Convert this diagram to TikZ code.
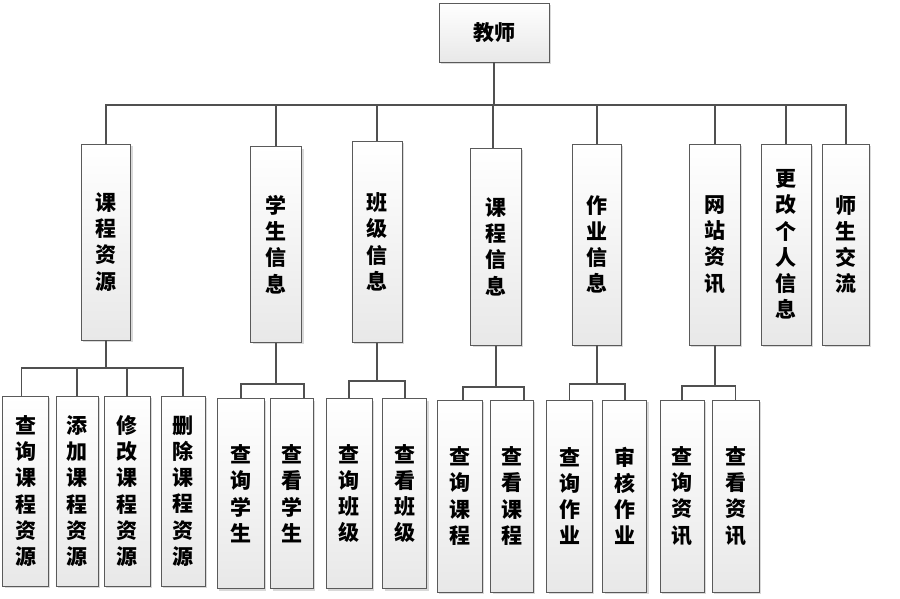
\documentclass[tikz,border=0pt]{standalone}
\usepackage{fontspec}
\newfontfamily\cjk{Noto Sans CJK SC}
\usetikzlibrary{shadows}
\definecolor{edgec}{HTML}{505050}
\definecolor{bordc}{HTML}{5A5A5A}
\begin{document}
\begin{tikzpicture}[x=1pt,y=-1pt,
  box/.style={draw=bordc, line width=0.9pt, top color=white, bottom color=black!9,
    drop shadow={shadow xshift=1.8pt, shadow yshift=-1.8pt, fill=black!25, opacity=0.6},
    inner sep=0pt, align=center, font=\cjk\bfseries\fontsize{21}{26.2}\selectfont},
  conn/.style={draw=edgec, line width=1.7pt}]
\useasboundingbox (0,0) rectangle (900,598);
% root
\node[box, minimum width=110pt, minimum height=59pt] (root) at (494,32.5) {教师};
% level 1
\node[box, minimum width=49.4pt, minimum height=196pt] (k1) at (106,242) {课\\程\\资\\源};
\node[box, minimum width=51pt, minimum height=195.6pt] (k2) at (276.2,244.5) {学\\生\\信\\息};
\node[box, minimum width=50.7pt, minimum height=201pt] (k3) at (377.3,241.8) {班\\级\\信\\息};
\node[box, minimum width=50.6pt, minimum height=196.7pt] (k4) at (496,246.7) {课\\程\\信\\息};
\node[box, minimum width=49.7pt, minimum height=201pt] (k5) at (596.8,244.5) {作\\业\\信\\息};
\node[box, minimum width=51pt, minimum height=201pt] (k6) at (714.8,244.5) {网\\站\\资\\讯};
\node[box, minimum width=49.7pt, minimum height=201pt] (k7) at (786.2,244.5) {更\\改\\个\\人\\信\\息};
\node[box, minimum width=46.6pt, minimum height=201pt] (k8) at (846,244.5) {师\\生\\交\\流};
% level 2
\node[box, minimum width=45.6pt, minimum height=190pt] (c11) at (25.5,491) {查\\询\\课\\程\\资\\源};
\node[box, minimum width=42.7pt, minimum height=190pt] (c12) at (77.3,491) {添\\加\\课\\程\\资\\源};
\node[box, minimum width=46.3pt, minimum height=190pt] (c13) at (127.2,491) {修\\改\\课\\程\\资\\源};
\node[box, minimum width=43.7pt, minimum height=190pt] (c14) at (183.2,491) {删\\除\\课\\程\\资\\源};
\node[box, minimum width=46.7pt, minimum height=190pt] (c21) at (240.7,493.7) {查\\询\\学\\生};
\node[box, minimum width=42.6pt, minimum height=190pt] (c22) at (292,493.7) {查\\看\\学\\生};
\node[box, minimum width=45.3pt, minimum height=190pt] (c31) at (349.3,493.7) {查\\询\\班\\级};
\node[box, minimum width=44pt, minimum height=190pt] (c32) at (404.7,493.7) {查\\看\\班\\级};
\node[box, minimum width=45pt, minimum height=192pt] (c41) at (459.8,496) {查\\询\\课\\程};
\node[box, minimum width=42.6pt, minimum height=192pt] (c42) at (512,496) {查\\看\\课\\程};
\node[box, minimum width=45.6pt, minimum height=192pt] (c51) at (569.5,496) {查\\询\\作\\业};
\node[box, minimum width=44pt, minimum height=192pt] (c52) at (624.7,496) {审\\核\\作\\业};
\node[box, minimum width=44.3pt, minimum height=192pt] (c61) at (682.2,496) {查\\询\\资\\讯};
\node[box, minimum width=47pt, minimum height=192pt] (c62) at (735.5,496) {查\\看\\资\\讯};
% bus coordinates
\coordinate (b0) at (0,105);
\coordinate (b1) at (0,368.3);
\coordinate (b2) at (0,384.3);
\coordinate (b3) at (0,381);
\coordinate (b4) at (0,387.3);
\coordinate (b5) at (0,384);
\coordinate (b6) at (0,385.7);
\coordinate (k4t) at ([xshift=-2.7pt]k4.north);
\coordinate (c11t) at ([xshift=-4pt]c11.north);
\coordinate (c22t) at ([xshift=12pt]c22.north);
\coordinate (c41t) at ([xshift=3pt]c41.north);
\coordinate (c42t) at ([xshift=12pt]c42.north);
% level 0 -> 1
\draw[conn] (root.south) -- (root.south |- b0);
\draw[conn] (k1.north) -- (k1.north |- b0) -- (k8.north |- b0) -- (k8.north);
\foreach \n in {k2,k3,k5,k6,k7} \draw[conn] (\n.north) -- (\n.north |- b0);
\draw[conn] (k4t) -- (k4t |- b0);
% level 1 -> 2
\draw[conn] (k1.south) -- (k1.south |- b1);
\draw[conn] (c11t) -- (c11t |- b1) -- (c14.north |- b1) -- (c14.north);
\draw[conn] (c12.north) -- (c12.north |- b1);
\draw[conn] (c13.north) -- (c13.north |- b1);
\draw[conn] (k2.south) -- (k2.south |- b2);
\draw[conn] (c21.north) -- (c21.north |- b2) -- (c22t |- b2) -- (c22t);
\draw[conn] (k3.south) -- (k3.south |- b3);
\draw[conn] (c31.north) -- (c31.north |- b3) -- (c32.north |- b3) -- (c32.north);
\draw[conn] (k4.south) -- (k4.south |- b4);
\draw[conn] (c41t) -- (c41t |- b4) -- (c42t |- b4) -- (c42t);
\draw[conn] (k5.south) -- (k5.south |- b5);
\draw[conn] (c51.north) -- (c51.north |- b5) -- (c52.north |- b5) -- (c52.north);
\draw[conn] (k6.south) -- (k6.south |- b6);
\draw[conn] (c61.north) -- (c61.north |- b6) -- (c62.north |- b6) -- (c62.north);
\end{tikzpicture}
\end{document}
